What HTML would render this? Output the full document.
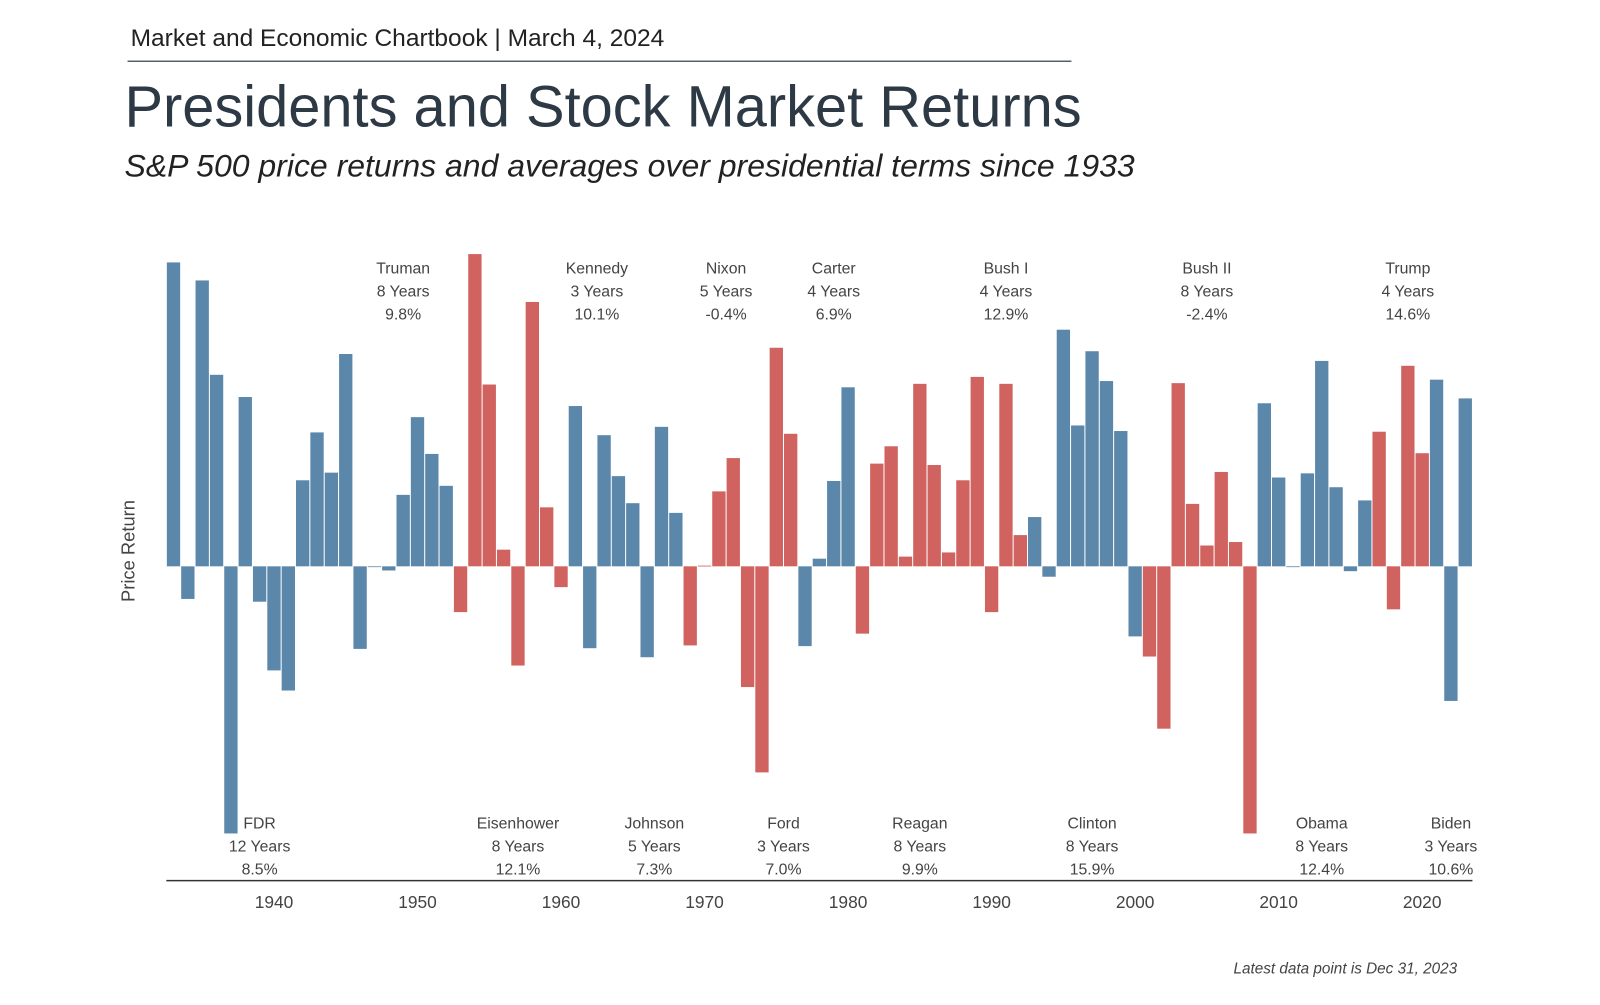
<!DOCTYPE html>
<html><head><meta charset="utf-8"><style>
body{margin:0;background:#fff;width:1600px;height:1000px;overflow:hidden;font-family:"Liberation Sans",sans-serif;}
</style></head><body>
<svg width="1600" height="1000" xmlns="http://www.w3.org/2000/svg">
<g transform="scale(1.0204)">
<text x="128" y="45" font-size="24" fill="#222" textLength="523" lengthAdjust="spacingAndGlyphs">Market and Economic Chartbook | March 4, 2024</text>
<line x1="125" y1="60" x2="1050" y2="60" stroke="#55606a" stroke-width="1.5"/>
<text x="122" y="124" font-size="57" fill="#2d3a45" textLength="938" lengthAdjust="spacingAndGlyphs">Presidents and Stock Market Returns</text>
<text x="122" y="173" font-size="31" font-style="italic" fill="#222" textLength="990" lengthAdjust="spacingAndGlyphs">S&amp;P 500 price returns and averages over presidential terms since 1933</text>
<text transform="translate(132,540) rotate(-90)" text-anchor="middle" font-size="18" fill="#444">Price Return</text>
<g id="bars"></g>
<line x1="163" y1="863" x2="1443" y2="863" stroke="#333" stroke-width="1.5"/>
<g id="ticks"></g>
<g id="labels"></g>
<text x="1428" y="954" text-anchor="end" font-size="15" font-style="italic" fill="#444">Latest data point is Dec 31, 2023</text>
</g>
</svg>
<script>
const startYear = 1933;
const returns = [43.8,-4.7,41.2,27.6,-38.5,24.4,-5.1,-15.0,-17.9,12.4,19.3,13.5,30.6,-11.9,0.0,-0.6,10.3,21.5,16.2,11.6,
-6.6,45.0,26.2,2.4,-14.3,38.1,8.5,-3.0,23.1,-11.8,18.9,13.0,9.1,-13.1,20.1,7.7,-11.4,0.1,10.8,15.6,-17.4,-29.7,31.5,19.1,
-11.5,1.1,12.3,25.8,-9.7,14.8,17.3,1.4,26.3,14.6,2.0,12.4,27.3,-6.6,26.3,4.5,7.1,-1.5,34.1,20.3,31.0,26.7,19.5,-10.1,
-13.0,-23.4,26.4,9.0,3.0,13.6,3.5,-38.5,23.5,12.8,0.0,13.4,29.6,11.4,-0.7,9.5,19.4,-6.2,28.9,16.3,26.9,-19.4,24.2];
const partyRanges = [[1933,1952,'D'],[1953,1960,'R'],[1961,1968,'D'],[1969,1976,'R'],[1977,1980,'D'],[1981,1992,'R'],[1993,2000,'D'],[2001,2008,'R'],[2009,2016,'D'],[2017,2020,'R'],[2021,2023,'D']];
const tickYears = [1940,1950,1960,1970,1980,1990,2000,2010,2020];
const topNames = ['Truman','Kennedy','Nixon','Carter','Bush I','Bush II','Trump'];
const topCenters = [1949,1962.5,1971.5,1979,1991,2005,2019];
const topYears = ['8 Years','3 Years','5 Years','4 Years','4 Years','8 Years','4 Years'];
const topAvg = ['9.8%','10.1%','-0.4%','6.9%','12.9%','-2.4%','14.6%'];
const botNames = ['FDR','Eisenhower','Johnson','Ford','Reagan','Clinton','Obama','Biden'];
const botCenters = [1939,1957,1966.5,1975.5,1985,1997,2013,2022];
const botYears = ['12 Years','8 Years','5 Years','3 Years','8 Years','8 Years','8 Years','3 Years'];
const botAvg = ['8.5%','12.1%','7.3%','7.0%','9.9%','15.9%','12.4%','10.6%'];

const x0=163, bw=1280/91, zeroY=555, pxPer=6.8;
const xs = y => x0 + (y-startYear)*bw;
const ys = v => zeroY - v*pxPer;
const NS='http://www.w3.org/2000/svg';
function party(y){for(const r of partyRanges) if(y>=r[0]&&y<=r[1]) return r[2]; return 'D';}
const gb=document.getElementById('bars');
returns.forEach((v,i)=>{
  const yr=startYear+i;
  const r=document.createElementNS(NS,'rect');
  r.setAttribute('x',xs(yr)+0.5);
  r.setAttribute('width',bw-1);
  r.setAttribute('y',Math.min(ys(v),zeroY));
  r.setAttribute('height',Math.max(Math.abs(ys(v)-zeroY),0.8));
  r.setAttribute('fill',party(yr)==='D'?'#5b87ab':'#d0625f');
  
  
  gb.appendChild(r);
});
const gt=document.getElementById('ticks');
tickYears.forEach(t=>{
  const e=document.createElementNS(NS,'text');
  e.setAttribute('x',xs(t)+bw/2);e.setAttribute('y',890);
  e.setAttribute('text-anchor','middle');e.setAttribute('font-size','17');e.setAttribute('fill','#444');
  e.textContent=t;
  
  
  gt.appendChild(e);
});
const gl=document.getElementById('labels');
function lab(names,centers,yrs,avg,y0){
  names.forEach((n,i)=>{
    [n,yrs[i],avg[i]].forEach((s,j)=>{
      const e=document.createElementNS(NS,'text');
      e.setAttribute('x',xs(centers[i])+bw/2);e.setAttribute('y',y0+j*22.5);
      e.setAttribute('text-anchor','middle');e.setAttribute('font-size','15.5');e.setAttribute('fill','#444');
      e.textContent=s;
      
      
      gl.appendChild(e);
    });
  });
}
lab(topNames,topCenters,topYears,topAvg,268);
lab(botNames,botCenters,botYears,botAvg,812);
</script>
</body></html>
